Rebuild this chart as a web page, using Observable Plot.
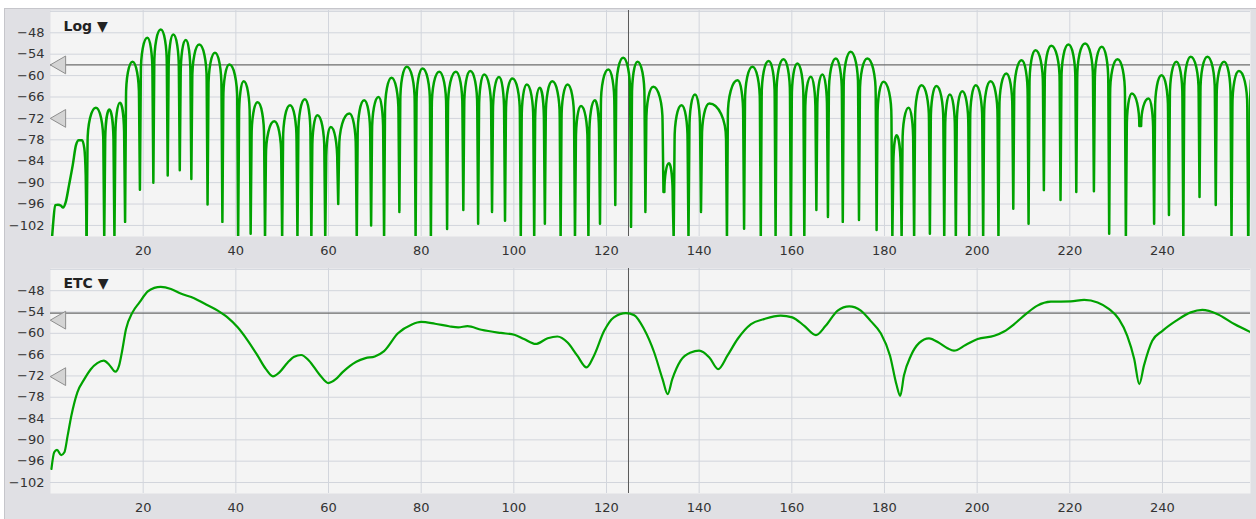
<!DOCTYPE html>
<html>
<head>
<meta charset="utf-8">
<script src="https://cdn.jsdelivr.net/npm/d3@7"></script>
<script src="https://cdn.jsdelivr.net/npm/@observablehq/plot@0.6"></script>
<style>
  html, body { margin: 0; padding: 0; background: #ffffff; }
  #frame { position: absolute; left: 4px; top: 8px; width: 1252px; height: 511px;
           background: #e0e0e4; border-top: 1px solid #c6c6cb; border-left: 1px solid #c6c6cb; box-sizing: border-box; }
  #top { position: absolute; left: 5px; top: 9px; }
  #bottom { position: absolute; left: 5px; top: 258px; }
</style>
</head>
<body>
<div id="frame"></div>
<div id="top"></div>
<div id="bottom"></div>
<script>
// ---------- data ----------
const xTicks = [20, 40, 60, 80, 100, 120, 140, 160, 180, 200, 220, 240];
const yTicks = [-48, -54, -60, -66, -72, -78, -84, -90, -96, -102];
const yGrid = [-42, -48, -54, -60, -66, -72, -78, -84, -90, -96, -102];
const cursorX = 124.75;
const refLineLog = -57;
const refLineEtc = -54.3;
const markersLog = [-57, -72];
const markersEtc = [-56.3, -72.2];

// Log panel: start of the trace before the first null
const leadX  = [0.3, 0.6, 1.0, 1.6, 2.3, 2.7, 3.3, 4.0, 4.8, 5.5, 6.1, 6.8, 7.3, 7.6, 7.8];
const leadDb = [-106, -101, -96.3, -96.2, -96.5, -97, -95.4, -90.7, -85.1, -79.5, -78.1, -78.1, -80.4, -87.9, -106];

// Log panel: nulls (x, depth) and lobe peaks (x, level)
const nullX = [7.8, 11.6, 13.8, 16.1, 19.3, 22.2, 25.3, 27.9, 30.4, 33.9, 37.1, 40.5, 43.2, 46.3, 50.0, 53.3, 56.3, 59.3, 62.1, 66.1,
  69.2, 72.0, 75.3, 78.8, 82.1, 85.6, 89.1, 92.3, 95.3, 98.1, 101.5, 104.4, 106.7, 110.1, 113.2, 116.1, 118.6, 121.9, 125.3, 128.4,
  132.3, 134.5, 137.7, 140.4, 146.0, 149.7, 153.3, 156.5, 159.8, 162.7, 165.3, 167.8, 171.0, 174.5, 178.3, 181.7, 183.7, 186.4, 189.8, 192.9,
  195.4, 198.3, 201.3, 204.6, 207.8, 211.1, 214.4, 218.0, 221.4, 225.2, 228.5, 232.1, 235.2, 238.2, 241.4, 244.5, 248.0, 251.5, 254.9, 258.5];
const nullDb = [-106, -106, -106, -101, -92, -90, -88, -86.5, -89, -96.1, -101, -106, -104.3, -106, -106, -106, -106, -106, -96, -106,
  -102, -106, -98.2, -106, -106, -103, -97.7, -101.5, -98.2, -100.7, -106, -106, -101.5, -106, -106, -106, -101.5, -96.3, -102.4, -98.2,
  -92.6, -106, -106, -98.2, -106, -102.9, -106, -106, -106, -106, -97.7, -99.6, -101, -100.5, -103.3, -106, -106, -106, -104.3, -106,
  -106, -106, -106, -106, -97.3, -101.5, -92.1, -94.9, -92.6, -92.4, -104.3, -106, -74.1, -101.5, -99.1, -106, -94, -96.3, -106, -106];
const peakX = [9.8, 12.7, 15.0, 17.7, 20.9, 23.8, 26.5, 29.2, 32.1, 35.5, 38.6, 41.7, 44.7, 48.3, 51.7, 54.9, 57.6, 60.5, 64.5, 67.7,
  70.8, 73.6, 76.9, 80.3, 83.9, 87.5, 90.6, 93.6, 96.8, 99.7, 102.8, 105.6, 108.3, 111.6, 114.5, 117.5, 120.4, 123.6, 126.7, 130.1,
  133.5, 136.2, 139.1, 142.2, 148.3, 151.5, 155.0, 158.2, 161.2, 164.1, 166.6, 169.5, 172.7, 176.3, 179.8, 182.6, 185.2, 188.0, 191.2, 194.1,
  196.8, 199.7, 202.9, 206.3, 209.6, 212.6, 216.0, 219.7, 223.3, 226.9, 230.3, 233.4, 237.0, 239.8, 243.0, 246.1, 249.7, 253.3, 256.5];
const peakDb = [-69, -69.5, -67.6, -56.1, -49.4, -47.1, -48.5, -50, -51.3, -53.6, -56.9, -61.6, -67.5, -72.8, -68.3, -66.6, -71.1, -74.4, -70.6, -66.9,
  -66, -60.6, -57.5, -58, -58.9, -58.9, -58.7, -59.7, -60.4, -60.8, -62.5, -63.4, -61.6, -62.5, -68.5, -66.9, -58.3, -55, -56.1, -63.1,
  -84.6, -68.3, -65.3, -67.8, -61.3, -57.5, -55.9, -55.4, -56.6, -60.3, -59.7, -55.2, -53.3, -55.2, -61.7, -76.7, -69, -62.7, -62.9, -65.3,
  -64.4, -62.7, -61.6, -59.4, -55.7, -52.9, -51.6, -51.3, -51, -51.9, -55.4, -65, -66.4, -59.9, -56.1, -54.7, -54.7, -56.1, -58.7];
// end of the trace at the right edge
const tailX  = [258.5, 258.8, 259.1];
const tailDb = [-106, -70, -61.3];

// ETC panel
const etcX = [0.2, 0.8, 1.4, 2.3, 3.0, 3.7, 4.5, 5.8, 7.3, 8.7, 10.1, 11.5, 12.7, 14.0, 14.8, 15.4, 16.3, 17.7, 19.2, 21.0,
  22.4, 23.8, 26.0, 28.1, 31.0, 33.2, 36.1, 38.2, 40.4, 42.5, 44.7, 46.5, 48.0, 49.4, 51.2, 52.6, 54.1, 55.8, 58.0, 60.0,
  61.5, 63, 66, 68, 70, 72, 75, 78, 80, 83, 86, 88, 90, 93, 97.2, 100.1, 102.2, 104.7, 107.3, 109.4,
  111.6, 113.7, 115.7, 117.3, 119.5, 121.6, 124.2, 126, 128.1, 130.3, 132.1, 133.2, 134.2, 136, 138.2, 140, 142.2, 144.1, 146.1, 148.3,
  151.2, 154, 157.6, 160.1, 162.7, 165.2, 167.3, 169.9, 172.4, 174.9, 177.0, 179.2, 181.2, 182.6, 183.4, 184.2, 185.7, 187.5, 189.6, 191.8,
  193.6, 195, 197.5, 200.1, 203.7, 205.8, 208, 210.5, 213, 215.9, 220.2, 223.1, 226, 228.5, 230.6, 232.4, 233.9, 235, 236, 237.8,
  240, 242.9, 246.1, 248.6, 251.9, 255.5, 259.4];
const etcDb = [-98.2, -93.5, -92.8, -94.3, -93.5, -88.8, -83.2, -76.6, -72.9, -70.1, -68.4, -67.7, -68.9, -70.8, -69.1, -65.4, -58.8, -54.1, -51.3, -48.2,
  -47.2, -46.9, -47.5, -48.8, -50.1, -51.6, -53.6, -55.5, -58.3, -61.9, -66.3, -70.1, -72.1, -71, -68.2, -66.6, -66.1, -67.7, -71.5, -74,
  -73, -71, -68, -67, -66.5, -65, -60, -57.5, -56.8, -57.3, -58, -58.3, -58, -59, -59.9, -60.4, -61.6, -63, -61.4, -60.9,
  -62.6, -66.3, -69.6, -66.3, -59.3, -55.5, -54.3, -54.9, -58.8, -65.4, -72.9, -77.1, -72.9, -67.7, -65.4, -64.9, -66.8, -70.1, -66.3, -61.6,
  -57.4, -56, -55, -55.5, -57.9, -60.5, -57.9, -53.6, -52.4, -53.6, -56.5, -60.0, -66.3, -74.5, -77.6, -71.9, -66.3, -62.7, -61.4, -62.7,
  -64.2, -64.9, -63.3, -61.6, -60.7, -59.5, -57.4, -54.6, -52.2, -51.1, -51, -50.6, -51.3, -53.2, -56, -60.7, -67.2, -74.3, -69.1, -62.1,
  -59.3, -56.5, -54.1, -53.4, -54.6, -57.4, -59.9];

// ---------- tables built from the arrays ----------
const lead = leadX.map((x, i) => ({x, y: leadDb[i]}));
const tail = tailX.map((x, i) => ({x, y: tailDb[i]}));
const lobes = [];
nullX.forEach((x, i) => {
  lobes.push({x, y: nullDb[i]});
  if (i < peakX.length) lobes.push({x: peakX[i], y: peakDb[i]});
});
const etc = etcX.map((x, i) => ({x, y: etcDb[i]}));

// ---------- rendering ----------
const green = "#00a200";
const font = "'DejaVu Sans', 'Liberation Sans', sans-serif";

// curve that draws each lobe as an arch between two nulls (null, peak, null, peak, ... in order)
function archCurve(context) {
  let pts = [];
  const ARCH = 36, K1 = 0.45, K2 = 0.55, G = 0.9;
  return {
    areaStart() {}, areaEnd() {},
    lineStart() { pts = []; },
    point(x, y) { pts.push([+x, +y]); },
    lineEnd() {
      if (!pts.length) return;
      context.moveTo(pts[0][0], pts[0][1]);
      for (let i = 0; i + 2 < pts.length; i += 2) {
        const [xa, ya] = pts[i], [xm, yp] = pts[i + 1], [xb, yb] = pts[i + 2];
        const sL = Math.max(0, Math.min(ARCH, ya - yp));
        const sR = Math.max(0, Math.min(ARCH, yb - yp));
        context.lineTo(xa + G, yp + sL);
        context.bezierCurveTo(xa + G, yp + sL * K1, xm - (xm - xa - G) * K2, yp, xm, yp);
        context.bezierCurveTo(xm + (xb - G - xm) * K2, yp, xb - G, yp + sR * K1, xb - G, yp + sR);
        context.lineTo(xb, yb);
      }
    }
  };
}

function panel({height, marginTop, marginBottom, refY, markers, title, titleDy, traces}) {
  return Plot.plot({
    width: 1248, height, marginLeft: 45, marginRight: 3, marginTop, marginBottom,
    x: {domain: [0, 259]},
    y: {domain: [-105.1, -41.75]},
    style: {background: "transparent", fontFamily: font, fontSize: "13px", color: "#333", overflow: "visible"},
    marks: [
      Plot.frame({fill: "#f4f4f4", stroke: "none"}),
      Plot.ruleX(xTicks, {stroke: "#d2d5dc", strokeOpacity: 1}),
      Plot.ruleY(yGrid, {stroke: "#d2d5dc", strokeOpacity: 1}),
      Plot.axisX(xTicks, {tickSize: 0, tickPadding: 9, label: null, fill: "#333"}),
      Plot.axisY(yTicks, {tickSize: 0, tickPadding: 6, label: null, fill: "#333"}),
      Plot.ruleY([refY], {stroke: "#6c6c6c", strokeWidth: 1.2}),
      Plot.ruleX([cursorX], {stroke: "#5a5a5a", strokeWidth: 1}),
      ...traces,
      Plot.dot(markers, {y: d => d, frameAnchor: "left", dx: 10, symbol: "triangle", r: 6.6, rotate: -90,
                         fill: "#d4d4d4", stroke: "#8e8e8e", strokeWidth: 1}),
      Plot.text([title], {frameAnchor: "top-left", dx: 13, dy: titleDy, lineAnchor: "middle", textAnchor: "start",
                          fontWeight: "bold", fontSize: 14, fill: "#222"})
    ]
  });
}

document.getElementById("top").append(panel({
  height: 249, marginTop: 1, marginBottom: 22, refY: refLineLog, markers: markersLog, title: "Log ▼", titleDy: 16,
  traces: [
    Plot.line(lead, {x: "x", y: "y", stroke: green, strokeWidth: 2.5, curve: "monotone-x", clip: true}),
    Plot.line(lobes, {x: "x", y: "y", stroke: green, strokeWidth: 2.5, curve: archCurve, clip: true}),
    Plot.line(tail, {x: "x", y: "y", stroke: green, strokeWidth: 2.5, clip: true})
  ]
}));

document.getElementById("bottom").append(panel({
  height: 261, marginTop: 10, marginBottom: 26, refY: refLineEtc, markers: markersEtc, title: "ETC ▼", titleDy: 15,
  traces: [
    Plot.line(etc, {x: "x", y: "y", stroke: green, strokeWidth: 2.2, curve: "monotone-x", clip: true})
  ]
}));
</script>
</body>
</html>
